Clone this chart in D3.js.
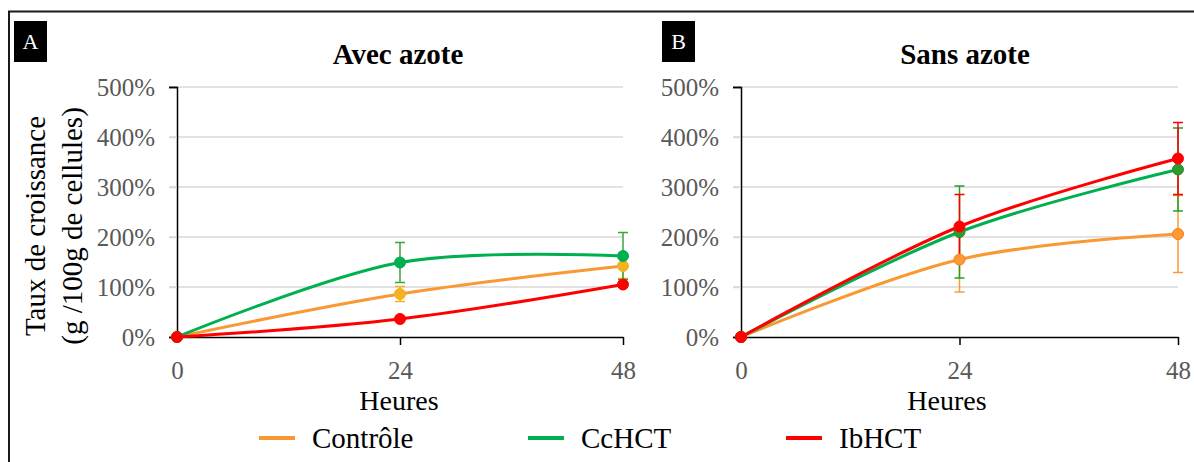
<!DOCTYPE html>
<html>
<head>
<meta charset="utf-8">
<script src="https://cdn.jsdelivr.net/npm/d3@7"></script>
<style>
  body { margin: 0; background: #fff; }
  svg text { font-family: 'Liberation Serif', 'Times New Roman', serif; }
</style>
</head>
<body>
<div id="chart-area"></div>
<script>
'use strict';
const svg_width = 1194;
const svg_height = 462;
const serif = "'Liberation Serif', 'Times New Roman', serif";

// data (values in %)
const hours = [0, 24, 48];
const y_ticks = [0, 100, 200, 300, 400, 500];
const series_names = ['Contrôle', 'CcHCT', 'IbHCT'];

const avec_controle = [0, 86, 142];
const avec_controle_err = [0, 15, 25];
const avec_cchct = [0, 149, 162];
const avec_cchct_err = [0, 40, 47];
const avec_ibhct = [0, 36, 105];
const avec_ibhct_err = [0, 3, 4];

const sans_controle = [0, 155, 206];
const sans_controle_err = [0, 65, 77];
const sans_cchct = [0, 210, 335];
const sans_cchct_err = [0, 92, 83];
const sans_ibhct = [0, 221, 357];
const sans_ibhct_err = [0, 64, 72];

const line_colors = ['#FA9933', '#00B050', '#FF0000'];

const panels = [
  {
    letter: 'A', title: 'Avec azote', x_range: [177, 623], letter_x: 14, title_x: 398, label_x: 399,
    values: [avec_controle, avec_cchct, avec_ibhct],
    errors: [avec_controle_err, avec_cchct_err, avec_ibhct_err],
    marker_fill: ['#F4B120', '#00B050', '#FF0000'],
    marker_stroke: ['#F4B120', '#00B050', '#FF0000'],
    err_colors: ['#F4B120', '#3DA33D', '#FF0000']
  },
  {
    letter: 'B', title: 'Sans azote', x_range: [741, 1178], letter_x: 662, title_x: 965, label_x: 947,
    values: [sans_controle, sans_cchct, sans_ibhct],
    errors: [sans_controle_err, sans_cchct_err, sans_ibhct_err],
    marker_fill: ['#FF9933', '#2E9B2E', '#FF0000'],
    marker_stroke: ['#F07F1E', '#2B8A2B', '#FF0000'],
    err_colors: ['#FF9933', '#22A022', '#FF0000']
  }
];

const svg = d3.select('#chart-area')
  .append('svg')
    .attr('width', svg_width)
    .attr('height', svg_height)
    .attr('font-family', serif);

// frame (cropped on the right and bottom)
svg.append('line')
  .attr('x1', 8).attr('x2', svg_width).attr('y1', 11.5).attr('y2', 11.5)
  .attr('stroke', '#1a1a1a').attr('stroke-width', 2);
svg.append('line')
  .attr('x1', 9).attr('x2', 9).attr('y1', 11).attr('y2', svg_height)
  .attr('stroke', '#1a1a1a').attr('stroke-width', 2);

const y_scale = d3.scaleLinear()
  .domain([0, 500])
  .range([337, 87]);

panels.forEach((p) => {
  const x_scale = d3.scaleLinear()
    .domain([0, 48])
    .range(p.x_range);
  const x0 = p.x_range[0];
  const x1 = p.x_range[1];

  // gridlines
  svg.append('g')
    .selectAll('line').data(y_ticks.filter(d => d > 0)).enter()
    .append('line')
      .attr('x1', x0 - 8).attr('x2', x1)
      .attr('y1', d => y_scale(d)).attr('y2', d => y_scale(d))
      .attr('stroke', '#D9D9D9').attr('stroke-width', 1.5);

  // y axis
  const y_axis = d3.axisLeft(y_scale)
    .tickValues(y_ticks)
    .tickSize(8)
    .tickPadding(14)
    .tickFormat(d => d + '%');
  const gy = svg.append('g')
    .attr('transform', `translate(${x0},0)`)
    .call(y_axis)
    .attr('font-family', serif);
  gy.select('.domain').attr('stroke', '#000').attr('stroke-width', 1.5);
  gy.selectAll('.tick line')
    .attr('stroke', d => (d === 500 || d === 0) ? '#000' : '#D9D9D9')
    .attr('stroke-width', 1.5);
  gy.selectAll('.tick text')
    .attr('fill', '#595959').attr('font-size', 25);

  // x axis
  const x_axis = d3.axisBottom(x_scale)
    .tickValues(hours)
    .tickSize(8)
    .tickPadding(16)
    .tickSizeOuter(0)
    .tickFormat(d3.format('d'));
  const gx = svg.append('g')
    .attr('transform', `translate(0,${y_scale(0)})`)
    .call(x_axis)
    .attr('font-family', serif);
  gx.select('.domain').attr('stroke', '#000').attr('stroke-width', 1.5);
  gx.selectAll('.tick line').attr('stroke', '#000').attr('stroke-width', 1.5)
    .attr('opacity', d => d === 0 ? 0 : 1);
  gx.selectAll('.tick text')
    .attr('fill', '#595959').attr('font-size', 25);

  // error bars
  p.values.forEach((vals, i) => {
    const g = svg.append('g')
      .attr('stroke', p.err_colors[i]).attr('stroke-width', 1.5);
    const pts = hours.map((h, k) => ({h: h, v: vals[k], e: p.errors[i][k]}))
      .filter(d => d.e > 0);
    g.selectAll('line.bar').data(pts).enter()
      .append('line')
        .attr('x1', d => x_scale(d.h)).attr('x2', d => x_scale(d.h))
        .attr('y1', d => y_scale(d.v - d.e)).attr('y2', d => y_scale(d.v + d.e));
    [1, -1].forEach((s) => {
      g.selectAll(null).data(pts).enter()
        .append('line')
          .attr('x1', d => x_scale(d.h) - 5).attr('x2', d => x_scale(d.h) + 5)
          .attr('y1', d => y_scale(d.v + s * d.e)).attr('y2', d => y_scale(d.v + s * d.e));
    });
  });

  // smooth lines
  const line = d3.line()
    .x((d, k) => x_scale(hours[k]))
    .y(d => y_scale(d))
    .curve(d3.curveCardinal.tension(0));
  p.values.forEach((vals, i) => {
    svg.append('path')
      .datum(vals)
      .attr('d', line)
      .attr('fill', 'none')
      .attr('stroke', line_colors[i])
      .attr('stroke-width', 3);
  });

  // markers
  p.values.forEach((vals, i) => {
    svg.append('g').selectAll('circle').data(vals).enter()
      .append('circle')
        .attr('cx', (d, k) => x_scale(hours[k]))
        .attr('cy', d => y_scale(d))
        .attr('r', 5.5)
        .attr('fill', p.marker_fill[i])
        .attr('stroke', p.marker_stroke[i])
        .attr('stroke-width', 1);
  });

  // panel letter
  svg.append('rect')
    .attr('x', p.letter_x).attr('y', 21)
    .attr('width', 33).attr('height', 41)
    .attr('fill', '#000');
  svg.append('text')
    .attr('x', p.letter_x + 16.5).attr('y', 49)
    .attr('text-anchor', 'middle')
    .attr('fill', '#fff').attr('font-size', 22)
    .text(p.letter);

  // title
  svg.append('text')
    .attr('x', p.title_x).attr('y', 64)
    .attr('text-anchor', 'middle')
    .attr('font-size', 29).attr('font-weight', 'bold')
    .text(p.title);

  // x axis label
  svg.append('text')
    .attr('x', p.label_x).attr('y', 410)
    .attr('text-anchor', 'middle')
    .attr('font-size', 28)
    .text('Heures');
});

// y axis title
const y_title = svg.append('text')
  .attr('transform', 'translate(0,226) rotate(-90)')
  .attr('text-anchor', 'middle')
  .attr('font-size', 29);
y_title.append('tspan').attr('x', 0).attr('y', 45).text('Taux de croissance');
y_title.append('tspan').attr('x', 0).attr('y', 82).text('(g /100g de cellules)');

// legend
const legend_x = [259, 528, 786];
const legend = svg.append('g');
series_names.forEach((name, i) => {
  legend.append('line')
    .attr('x1', legend_x[i]).attr('x2', legend_x[i] + 36)
    .attr('y1', 438).attr('y2', 438)
    .attr('stroke', line_colors[i]).attr('stroke-width', 4);
  legend.append('text')
    .attr('x', legend_x[i] + 53).attr('y', 448)
    .attr('font-size', 29)
    .text(name);
});
</script>
</body>
</html>
